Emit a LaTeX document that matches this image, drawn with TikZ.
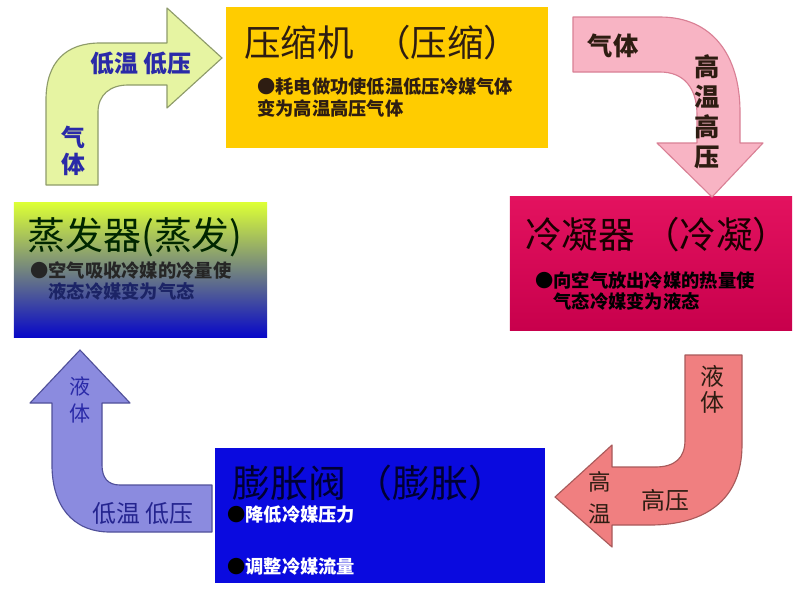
\documentclass[tikz,border=0pt]{standalone}
\usepackage{fontspec}
\setmainfont{Noto Sans CJK SC}
\usepackage{xcolor}
\usepackage{tikz}
\usetikzlibrary{positioning}
\definecolor{bGold}{HTML}{FFCC00}
\definecolor{bLime}{HTML}{DCFF36}
\definecolor{bMist}{HTML}{A9C3CC}
\definecolor{bNavy}{HTML}{0808C8}
\definecolor{bRose}{HTML}{E3125F}
\definecolor{bWine}{HTML}{C8004C}
\definecolor{bBlue}{HTML}{0A0ADF}
\definecolor{aLime}{HTML}{E6F4A2}
\definecolor{aLimeE}{HTML}{8E9B6A}
\definecolor{aPink}{HTML}{F8B4C4}
\definecolor{aPinkE}{HTML}{D98095}
\definecolor{aSalmon}{HTML}{F07F80}
\definecolor{aSalmonE}{HTML}{A85A5A}
\definecolor{aPeri}{HTML}{8B8BDF}
\definecolor{aPeriE}{HTML}{50509A}
\definecolor{tBlue}{HTML}{2A2AA8}
\definecolor{tInk}{HTML}{2E1D12}
\definecolor{tNavy}{HTML}{1C2466}
\tikzset{
  stagebox/.style={draw=none, inner sep=0pt},
  headtxt/.style={anchor=west, inner sep=0pt, font=\fontsize{26}{30}\selectfont},
  itemtxt/.style={anchor=north west, inner sep=0pt, align=left,
    font=\fontsize{13}{15}\selectfont\bfseries},
  bendarr/.style={line width=0.8pt, line join=round},
  arrlbl/.style={inner sep=0pt, align=center},
}

\begin{document}
\begin{tikzpicture}[x=0.025cm, y=-0.025cm]
  \fill[white] (0,0) rectangle (796,595);
  \useasboundingbox (0,0) rectangle (796,595);
  % stages
  \node[stagebox, fill=bGold, minimum width=8.05cm, minimum height=3.525cm] (comp) at (387,77.5) {};
  \node[stagebox, top color=bLime, middle color=bMist, bottom color=bNavy,
    minimum width=6.325cm, minimum height=3.35cm] (evap) at (140.5,270) {};
  \node[stagebox, top color=bRose, bottom color=bWine, minimum width=7.05cm, minimum height=3.325cm] (cond) at (651,263.5) {};
  \node[stagebox, fill=bBlue, minimum width=8.25cm, minimum height=3.375cm] (expv) at (380,515.5) {};

  \node[headtxt, text=tInk] (compT) at (244,43) {压缩机\hspace{0.55em}（压缩）};
  \node[itemtxt, text=tInk] (compI) at (257,78) {●耗电做功使低温低压冷媒气体\\变为高温高压气体};
  \node[headtxt, text=black!85!green, font=\fontsize{27}{30}\selectfont] (evapT) at (27,237) {蒸发器(蒸发)};
  \node[itemtxt, text=black!85] (evapI) at (30,261)
    {●空气吸收冷媒的冷量使\\\hphantom{●}\textcolor{tNavy}{液态冷媒变为气态}};
  \node[headtxt, text=black!90!red] (condT) at (525,235) {冷凝器 （冷凝）};
  \node[itemtxt, text=black] (condI) at (535,271) {●向空气放出冷媒的热量使\\\hphantom{●}气态冷媒变为液态};
  \node[headtxt, text=black!80!blue, font=\fontsize{27}{30}\selectfont] (expvT) at (232,483) {膨胀阀 （膨胀）};
  \node[itemtxt, text=white] (expvA) at (227,506) {\textcolor{black}{●}降低冷媒压力};
  \node[itemtxt, text=white] (expvB) at (227,558) {\textcolor{black}{●}调整冷媒流量};

  % bent arrows
  \draw[bendarr, fill=aLime, draw=aLimeE] (46,185) -- (46,100) .. controls (46,62) and (66,43) .. (100,43)
    -- (167,43) -- (167,8) -- (222,58) -- (167,108) -- (167,85) -- (128,85)
    .. controls (110,85) and (98,95) .. (98,112) -- (98,185) -- cycle;
  \draw[bendarr, fill=aPink, draw=aPinkE] (573,17) -- (660,17) .. controls (712,17) and (740,55) .. (740,112)
    -- (740,143) -- (763,143) -- (712,197) -- (657,143) -- (697,143) -- (697,115)
    .. controls (697,88) and (684,72) .. (660,72) -- (573,72) -- cycle;
  \draw[bendarr, fill=aSalmon, draw=aSalmonE] (685,355) -- (742,355) -- (742,445)
    .. controls (742,500) and (705,525) .. (650,525) -- (612,525) -- (612,547) -- (555,497)
    -- (612,445) -- (612,467) -- (655,467) .. controls (675,467) and (685,458) .. (685,440) -- cycle;
  \draw[bendarr, fill=aPeri, draw=aPeriE] (212,485) -- (212,532) -- (110,532)
    .. controls (72,532) and (52,505) .. (52,465) -- (52,403) -- (30,403) -- (80,350) -- (130,403)
    -- (102,403) -- (102,465) .. controls (102,478) and (108,485) .. (120,485) -- cycle;

  \node[arrlbl, text=tBlue, font=\fontsize{17}{20}\selectfont\bfseries] (ltA) at (141,63) {低温 低压};
  \node[arrlbl, text=tBlue, font=\fontsize{17}{19.3}\selectfont\bfseries] (ltB) at (73,150.5) {气\\体};
  \node[arrlbl, text=tInk, font=\fontsize{18}{20}\selectfont\bfseries] (rtA) at (613,46) {气体};
  \node[arrlbl, text=tInk, font=\fontsize{18}{21.3}\selectfont\bfseries] (rtB) at (707,112) {高\\温\\高\\压};
  \node[arrlbl, text=tInk, font=\fontsize{17}{18.5}\selectfont] (rbA) at (712,389) {液\\体};
  \node[arrlbl, text=tInk, font=\fontsize{17}{20}\selectfont] (rbB) at (665,500) {高压};
  \node[arrlbl, text=tInk, font=\fontsize{16}{22.8}\selectfont] (rbC) at (600,498) {高\\温};
  \node[arrlbl, text=tBlue, font=\fontsize{15}{19}\selectfont] (lbA) at (80,400) {液\\体};
  \node[arrlbl, text=tBlue!85!black, font=\fontsize{17}{20}\selectfont] (lbB) at (143,513) {低温 低压};
\end{tikzpicture}
\end{document}
